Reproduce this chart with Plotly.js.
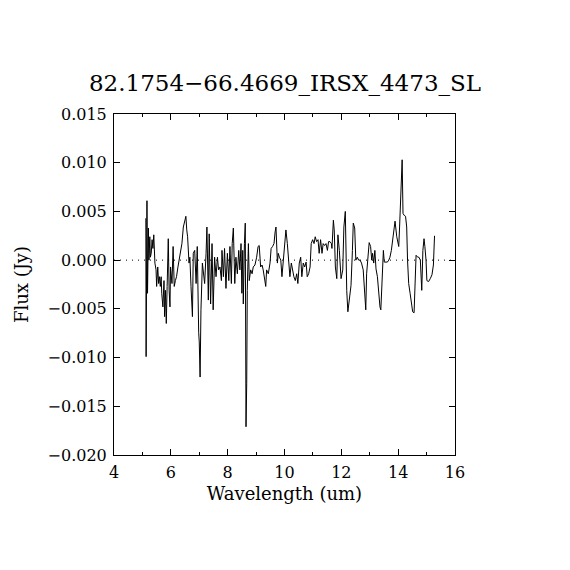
<!DOCTYPE html>
<html>
<head>
<meta charset="utf-8">
<script src="https://cdn.plot.ly/plotly-3.0.1.min.js"></script>
<style>html,body{margin:0;padding:0;background:#fff;}#chart{width:570px;height:570px;}</style>
</head>
<body>
<div id="chart"></div>
<script>
const chartTitle = "82.1754\u221266.4669_IRSX_4473_SL";
const xTitle = "Wavelength (um)";
const yTitle = "Flux (Jy)";
const xTickVals = [4, 6, 8, 10, 12, 14, 16];
const yTickVals = [-0.020, -0.015, -0.010, -0.005, 0.000, 0.005, 0.010, 0.015];
const yTickText = ["\u22120.020", "\u22120.015", "\u22120.010", "\u22120.005", "0.000", "0.005", "0.010", "0.015"];

const wavelength = [
5.12,5.13,5.16,5.18,5.21,5.23,5.26,5.28,5.31,5.34,5.37,5.40,5.44,5.48,5.50,5.54,5.57,5.60,5.63,5.66,
5.68,5.72,5.76,5.78,5.81,5.84,5.87,5.91,5.94,5.97,5.99,6.04,6.08,6.12,6.16,6.20,6.25,6.29,6.34,6.39,
6.44,6.49,6.53,6.56,6.59,6.64,6.67,6.71,6.76,6.79,6.84,6.89,6.93,6.98,7.00,7.03,7.06,7.11,7.14,7.19,
7.24,7.27,7.32,7.35,7.40,7.45,7.49,7.54,7.59,7.64,7.68,7.73,7.78,7.80,7.85,7.89,7.94,7.99,8.04,8.08,
8.13,8.16,8.20,8.25,8.29,8.34,8.39,8.43,8.47,8.50,8.53,8.55,8.59,8.62,8.645,8.67,8.69,8.73,8.76,8.81,
8.86,8.90,8.96,9.02,9.07,9.11,9.16,9.21,9.25,9.30,9.34,9.37,9.43,9.49,9.53,9.58,9.63,9.67,9.70,9.75,
9.78,9.82,9.87,9.91,9.96,10.01,10.05,10.10,10.15,10.19,10.24,10.29,10.33,10.38,10.43,10.47,10.52,10.57,10.61,10.66,
10.71,10.76,10.80,10.85,10.90,10.94,10.99,11.04,11.08,11.13,11.18,11.22,11.27,11.32,11.36,11.41,11.46,11.51,11.55,11.60,
11.65,11.67,11.72,11.75,11.79,11.84,11.88,11.93,11.99,12.05,12.09,12.14,12.19,12.23,12.28,12.34,12.39,12.42,12.47,12.51,
12.56,12.61,12.66,12.71,12.77,12.82,12.86,12.89,12.94,12.98,13.03,13.07,13.10,13.14,13.18,13.22,13.27,13.31,13.36,13.39,
13.44,13.48,13.51,13.56,13.62,13.67,13.71,13.76,13.81,13.84,13.89,13.95,13.98,14.02,14.05,14.09,14.11,14.14,14.17,14.21,
14.26,14.30,14.33,14.37,14.42,14.46,14.51,14.56,14.59,14.63,14.69,14.73,14.78,14.83,14.87,14.91,14.94,14.98,15.01,15.07,
15.13,15.19,15.24,15.28
];
const flux = [
0.0043,-0.0099,0.0061,-0.0034,0.0033,0.0000,0.0024,0.0003,0.0007,0.0021,0.0012,0.0026,-0.0003,-0.0010,-0.0027,-0.0007,-0.0024,-0.0017,-0.0027,-0.0017,
-0.0034,-0.0048,-0.0021,-0.0058,-0.0031,-0.0065,-0.0027,0.0022,-0.0031,-0.0048,-0.0007,-0.0024,0.0014,-0.0027,-0.0021,-0.0017,-0.0007,0.0000,0.0007,0.0017,
0.0034,0.0041,0.0045,0.0031,0.0024,-0.0003,0.0003,-0.0027,-0.0058,0.0007,0.0010,-0.0024,0.0014,-0.0074,-0.0084,-0.0120,-0.0051,-0.0003,-0.0014,-0.0024,
0.0007,0.0034,-0.0041,0.0027,-0.0045,0.0017,-0.0051,0.0003,-0.0017,0.0003,-0.0010,-0.0007,-0.0021,0.0010,-0.0017,0.0012,-0.0029,0.0007,-0.0021,0.0014,
-0.0024,0.0017,0.0033,-0.0024,0.0003,-0.0014,0.0010,-0.0010,0.0017,-0.0034,0.0010,-0.0045,0.0017,0.0038,-0.0171,-0.0127,-0.0031,0.0017,-0.0021,-0.0010,
-0.0014,-0.0007,-0.0005,0.0003,0.0014,0.0015,-0.0007,-0.0005,-0.0010,-0.0021,-0.0027,-0.0010,-0.0014,-0.0003,0.0012,0.0014,0.0017,0.0029,0.0034,-0.0003,
0.0007,0.0003,0.0000,-0.0017,0.0000,0.0014,0.0031,0.0017,-0.0007,-0.0017,-0.0003,-0.0014,-0.0017,-0.0021,-0.0014,-0.0024,-0.0003,0.0003,-0.0017,-0.0003,
-0.0007,-0.0002,-0.0017,-0.0014,-0.0007,0.0017,0.0021,0.0017,0.0024,0.0019,0.0021,0.0007,0.0021,0.0007,0.0017,0.0015,0.0017,0.0010,0.0019,0.0019,
0.0017,0.0012,0.0041,0.0031,-0.0007,-0.0019,0.0026,0.0010,-0.0019,-0.0010,0.0034,0.0050,-0.0031,-0.0053,-0.0043,-0.0026,0.0010,0.0038,0.0033,0.0000,
0.0003,0.0000,0.0000,-0.0003,-0.0010,-0.0031,-0.0051,-0.0014,0.0000,0.0018,0.0014,0.0000,0.0007,-0.0003,0.0010,-0.0009,-0.0017,-0.0034,-0.0048,-0.0051,
-0.0007,0.0010,-0.0002,-0.0002,-0.0002,0.0000,0.0003,0.0010,0.0021,0.0031,0.0040,0.0024,0.0019,0.0014,0.0034,0.0062,0.0087,0.0103,0.0048,0.0046,
0.0045,0.0034,0.0000,-0.0024,-0.0034,-0.0041,-0.0053,-0.0054,-0.0024,0.0005,0.0003,0.0003,0.0000,-0.0031,0.0010,0.0022,0.0014,0.0000,-0.0021,-0.0022,
-0.0019,-0.0015,-0.0005,0.0025
];

const serif = "DejaVu Serif, Liberation Serif, serif";

const traces = [{
  x: wavelength, y: flux, type: "scatter", mode: "lines",
  line: {color: "#000", width: 1}, hoverinfo: "skip", showlegend: false
}];

const axisCommon = {
  showgrid: false, zeroline: false, showline: true, linecolor: "#000", linewidth: 1,
  mirror: "allticks", ticks: "inside", ticklen: 6, tickcolor: "#000", tickwidth: 1,
  ticklabelstandoff: 3,
  tickfont: {family: serif, size: 16, color: "#000"}
};

const layout = {
  width: 570, height: 570,
  paper_bgcolor: "#fff", plot_bgcolor: "#fff",
  margin: {l: 114, r: 115, t: 114, b: 115, pad: 0},
  title: {text: chartTitle, x: 0.5, xanchor: "center", y: 0.855, yanchor: "middle",
          font: {family: serif, size: 23, color: "#000"}},
  xaxis: Object.assign({}, axisCommon, {
    range: [4, 16], tickmode: "array", tickvals: xTickVals,
    minor: {ticks: "inside", ticklen: 3, dtick: 1, tick0: 4, tickcolor: "#000", showgrid: false},
    title: {text: xTitle, font: {family: serif, size: 18, color: "#000"}, standoff: 6}
  }),
  yaxis: Object.assign({}, axisCommon, {
    range: [-0.020, 0.015], tickmode: "array", tickvals: yTickVals, ticktext: yTickText,
    title: {text: yTitle, font: {family: serif, size: 18, color: "#000"}, standoff: 14}
  }),
  shapes: [{
    type: "line", xref: "paper", yref: "y", x0: 0, x1: 1, y0: 0, y1: 0,
    line: {color: "#000", width: 1, dash: "1px,5px"}, layer: "below"
  }]
};

Plotly.newPlot("chart", traces, layout, {staticPlot: true, displayModeBar: false});
</script>
</body>
</html>
